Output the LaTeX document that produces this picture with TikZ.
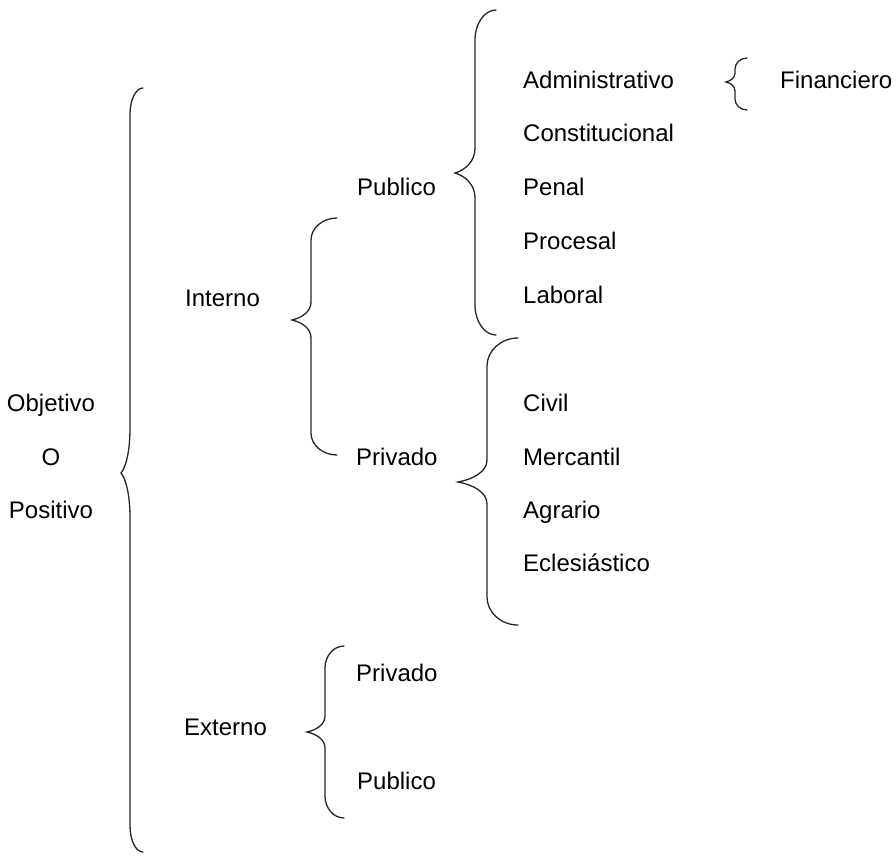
\documentclass[tikz,border=0pt]{standalone}
\usepackage{fontspec}
\setmainfont{Liberation Sans}
% #1 x of ends, #2 x of line, #3 x of tip, #4 y top, #5 y tip, #6 y bottom, #7 end curve height, #8 tip curve height
\newcommand\mybrace[8]{%
  \draw[bracestyle] (#1,#4) .. controls ({#2+0.45*(#1-#2)},#4) and (#2,{#4+0.45*#7}) .. (#2,{#4+#7})
    -- (#2,{#5-#8}) .. controls (#2,{#5-0.45*#8}) and ({#3+0.5*(#2-#3)},{#5-0.12*#8}) .. (#3,#5)
    .. controls ({#3+0.5*(#2-#3)},{#5+0.12*#8}) and (#2,{#5+0.45*#8}) .. (#2,{#5+#8})
    -- (#2,{#6-#7}) .. controls (#2,{#6-0.45*#7}) and ({#2+0.45*(#1-#2)},#6) .. (#1,#6);}
\begin{document}
\begin{tikzpicture}[x=1pt,y=-1pt,
  bracestyle/.style={line width=1.3pt,black!85,line cap=round},
  lbl/.style={inner sep=0pt,text height=17pt,text depth=0pt,font=\fontsize{24}{28}\selectfont,anchor=west},
  clbl/.style={lbl,anchor=center}]
\useasboundingbox (0,0) rectangle (896,857);
% braces
\mybrace{143}{130}{121}{88}{473}{852}{26}{45}
\mybrace{496}{475}{455}{10}{173}{335}{30}{25}
\mybrace{337}{311}{292}{218}{320}{455}{22}{18}
\mybrace{518}{487}{458}{338}{482}{625}{28}{22}
\mybrace{344}{325}{307}{646}{732}{818}{22}{16}
\mybrace{747}{735}{726}{58}{82}{110}{11}{9}
% texts
\node[clbl] (obj) at (51,403) {Objetivo};
\node[clbl] (o) at (51,457) {O};
\node[clbl] (pos) at (51,510) {Positivo};
\node[lbl] (int) at (185,298) {Interno};
\node[lbl] (ext) at (184,727) {Externo};
\node[lbl] (pub) at (357,187) {Publico};
\node[lbl] (priv) at (356,457) {Privado};
\node[lbl] (adm) at (523,80) {Administrativo};
\node[lbl] (fin) at (780,80) {Financiero};
\node[lbl] (con) at (523,133) {Constitucional};
\node[lbl] (pen) at (523,187) {Penal};
\node[lbl] (pro) at (523,241) {Procesal};
\node[lbl] (lab) at (523,295) {Laboral};
\node[lbl] (civ) at (523,403) {Civil};
\node[lbl] (mer) at (523,457) {Mercantil};
\node[lbl] (agr) at (523,510) {Agrario};
\node[lbl] (ecl) at (523,563) {Eclesiástico};
\node[lbl] (epriv) at (356,673) {Privado};
\node[lbl] (epub) at (357,781) {Publico};
\end{tikzpicture}
\end{document}
